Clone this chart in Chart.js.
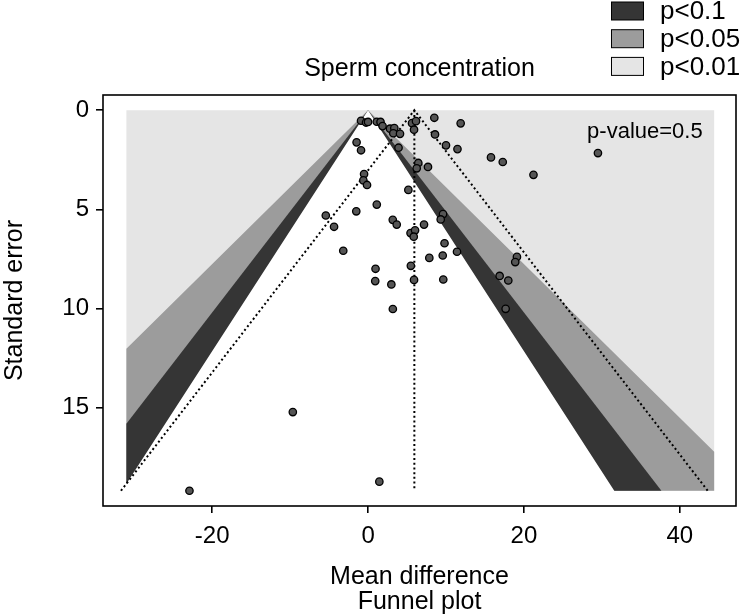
<!DOCTYPE html>
<html lang="en">
<head>
<meta charset="UTF-8">
<title>Sperm concentration - Funnel plot</title>
<script src="https://cdn.jsdelivr.net/npm/chart.js"></script>
<style>
  html, body { margin: 0; padding: 0; background: #fff; }
  #wrap { width: 743px; height: 615px; }
</style>
</head>
<body>
<div id="wrap"><canvas id="funnel" width="743" height="615"></canvas></div>

<script>
  // study estimates
  const meanDiff = [-0.90, -0.26, 0.00, 1.12, 1.60, 1.86, 2.82, 3.37, 3.24, 4.10,
                    3.91, 5.64, 6.15, 5.90, 8.50, 11.88, 8.59, 10.00, 11.47, 15.77,
                    17.28, 21.22, 29.49, -1.47, -0.90, 6.45, 6.24, 7.69, -0.51, -0.60,
                    -0.13, 5.17, 1.12, -1.51, -5.42, -4.36, 3.17, 3.68, 7.18, 5.45,
                    6.03, 5.86, 9.62, 9.32, -3.18, 9.81, 7.86, 9.58, 11.41, 0.96,
                    5.49, 0.92, 2.99, 5.90, 9.65, 19.10, 18.88, 16.88, 17.99, 3.18,
                    17.65, -9.65, 1.45, -22.91];
  const stdErr   = [0.53, 0.62, 0.59, 0.58, 0.59, 0.80, 0.93, 0.90, 1.16, 1.19,
                    1.89, 0.65, 0.55, 0.98, 0.38, 0.66, 1.22, 1.77, 1.96, 2.38,
                    2.61, 3.26, 2.16, 1.62, 2.02, 2.66, 2.93, 2.86, 3.22, 3.54,
                    3.77, 4.02, 4.76, 5.10, 5.31, 5.88, 5.53, 5.77, 5.77, 6.20,
                    6.06, 6.38, 5.24, 5.51, 7.09, 6.71, 7.45, 7.33, 7.14, 8.00,
                    7.85, 8.62, 8.79, 8.56, 8.54, 7.40, 7.66, 8.36, 8.59, 10.03,
                    10.02, 15.23, 18.74, 19.20];

  const pooledEstimate = 5.94;
  const seMax = 19.2;
  const regionX = [-31.0, 44.4];   // shaded rectangle, mean difference range

  // contour levels (z), legend labels and fills, from innermost out
  const contourZ      = [1.645, 1.96, 2.576];
  const contourLabels = ["p<0.1", "p<0.05", "p<0.01"];
  const contourColors = ["#353535", "#9c9c9c", "#e5e5e5"];

  const xTicks = [-20, 0, 20, 40];
  const yTicks = [0, 5, 10, 15];

  const FONT = "'Liberation Sans', Arial, Helvetica, sans-serif";

  // region |x| <= z*se, clipped to the shaded rectangle
  function innerRegion(z) {
    const [xl, xr] = regionX;
    const pts = [{x: 0, y: 0}];
    if (z * seMax <= xr) pts.push({x: z * seMax, y: seMax});
    else { pts.push({x: xr, y: xr / z}); pts.push({x: xr, y: seMax}); }
    if (z * seMax <= -xl) pts.push({x: -z * seMax, y: seMax});
    else { pts.push({x: xl, y: seMax}); pts.push({x: xl, y: -xl / z}); }
    return pts;
  }

  // white centre: same shape, pushed a bit past the bottom/left edge to hide the seam
  function whiteRegion(z) {
    const xl = regionX[0];
    return [{x: 0, y: 0}, {x: z * seMax, y: seMax}, {x: z * seMax, y: seMax + 0.4},
            {x: xl - 0.5, y: seMax + 0.4}, {x: xl - 0.5, y: -xl / z + 0.05}, {x: xl, y: -xl / z}];
  }

  const polyStyle = (color, order) => ({
    type: "line", showLine: true, fill: "shape", backgroundColor: color,
    borderColor: "rgba(0,0,0,0)", borderWidth: 0, pointRadius: 0,
    pointHoverRadius: 0, tension: 0, order: order
  });

  const dotted = (data) => ({
    type: "line", data: data, showLine: true, fill: false,
    borderColor: "#000", borderWidth: 2, borderDash: [2, 2.7],
    pointRadius: 0, pointHoverRadius: 0, order: 1
  });

  const datasets = [
    {
      label: "studies",
      data: meanDiff.map((v, i) => ({x: v, y: stdErr[i]})),
      backgroundColor: "#555555", borderColor: "#000", borderWidth: 1.3,
      pointRadius: 3.7, pointHoverRadius: 3.7, order: 0
    },
    dotted([{x: pooledEstimate, y: 0}, {x: pooledEstimate, y: seMax}]),
    dotted([{x: pooledEstimate - 1.96 * seMax, y: seMax}, {x: pooledEstimate, y: 0},
            {x: pooledEstimate + 1.96 * seMax, y: seMax}]),
    Object.assign({data: whiteRegion(contourZ[0])}, polyStyle("#ffffff", 2)),
    Object.assign({data: innerRegion(contourZ[1])}, polyStyle(contourColors[0], 3)),
    Object.assign({data: innerRegion(contourZ[2])}, polyStyle(contourColors[1], 4)),
    Object.assign({data: [{x: regionX[0], y: 0}, {x: regionX[1], y: 0},
                          {x: regionX[1], y: seMax}, {x: regionX[0], y: seMax}]},
                  polyStyle(contourColors[2], 5))
  ];

  // frame, title, legend and p-value note
  const decor = {
    id: "decor",
    afterDraw(chart) {
      const {ctx, chartArea: a, scales} = chart;
      ctx.save();
      ctx.strokeStyle = "#000";
      ctx.lineWidth = 1.6;
      ctx.strokeRect(a.left, a.top, a.right - a.left, a.bottom - a.top);

      ctx.fillStyle = "#000";
      ctx.textBaseline = "middle";
      ctx.textAlign = "center";
      ctx.font = "25px " + FONT;
      ctx.fillText("Sperm concentration", (a.left + a.right) / 2, 69);

      ctx.textAlign = "left";
      ctx.font = "22px " + FONT;
      ctx.fillText("p-value=0.5", scales.x.getPixelForValue(28.1), scales.y.getPixelForValue(1.1));

      ctx.font = "26px " + FONT;
      ctx.lineWidth = 1;
      for (let i = 0; i < contourLabels.length; i++) {
        const y = 2 + i * 27.7;
        ctx.fillStyle = contourColors[i];
        ctx.fillRect(611.5, y, 32, 18);
        ctx.strokeRect(611.5, y, 32, 18);
        ctx.fillStyle = "#000";
        ctx.fillText(contourLabels[i], 660, y + 10);
      }
      ctx.restore();
    }
  };

  new Chart(document.getElementById("funnel"), {
    type: "scatter",
    data: {datasets: datasets},
    options: {
      responsive: false,
      animation: false,
      layout: {padding: {top: 95, right: 7, left: 0, bottom: 0}},
      plugins: {legend: {display: false}, title: {display: false}, tooltip: {enabled: false}},
      scales: {
        x: {
          type: "linear", min: -34, max: 47.2,
          afterFit: s => { s.height = 109; },
          afterBuildTicks: s => { s.ticks = xTicks.map(v => ({value: v})); },
          grid: {display: true, drawOnChartArea: false, drawTicks: true, tickLength: 7,
                 color: "#000", lineWidth: 1.6},
          border: {display: false},
          ticks: {color: "#000", padding: 9, maxRotation: 0, font: {family: FONT, size: 24}},
          title: {display: true, text: ["Mean difference", "Funnel plot"], color: "#000",
                  padding: {top: 0, bottom: 0}, font: {family: FONT, size: 25, lineHeight: 1.0}}
        },
        y: {
          type: "linear", reverse: true, min: -0.77, max: 19.97,
          afterFit: s => { s.width = 103; },
          afterBuildTicks: s => { s.ticks = yTicks.map(v => ({value: v})); },
          grid: {display: true, drawOnChartArea: false, drawTicks: true, tickLength: 7,
                 color: "#000", lineWidth: 1.6},
          border: {display: false},
          ticks: {color: "#000", padding: 7, font: {family: FONT, size: 24}},
          title: {display: true, text: "Standard error", color: "#000",
                  padding: {top: 2, bottom: 0}, font: {family: FONT, size: 25, lineHeight: 1.05}}
        }
      }
    },
    plugins: [decor]
  });
</script>
</body>
</html>
